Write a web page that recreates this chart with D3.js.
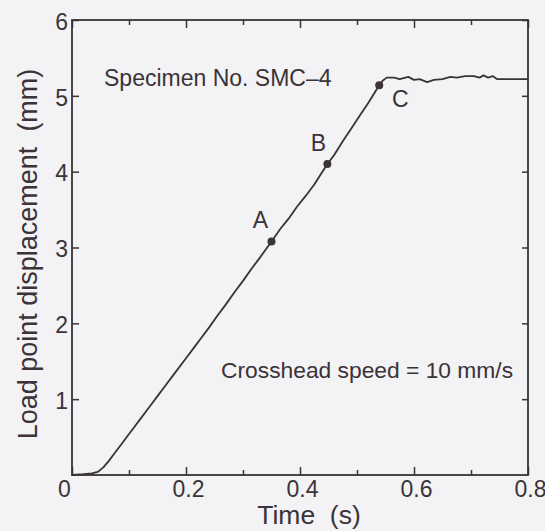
<!DOCTYPE html>
<html>
<head>
<meta charset="utf-8">
<script src="https://cdn.jsdelivr.net/npm/d3@7"></script>
<style>
  body { margin: 0; background: #f3f2f4; }
  svg { display: block; }
  text { font-family: "Liberation Sans", Arial, sans-serif; fill: #3a3337; }
</style>
</head>
<body>
<div id="chart"></div>
<script>
// time (s) and load point displacement (mm)
var time = [0, 0.02, 0.035, 0.045, 0.055, 0.065, 0.075, 0.086, 0.1, 0.11, 0.121, 0.138, 0.15, 0.165, 0.18, 0.2, 0.215, 0.226, 0.24, 0.255, 0.27, 0.285, 0.3, 0.315, 0.33, 0.35, 0.365, 0.38, 0.395, 0.41, 0.425, 0.448, 0.46, 0.475, 0.49, 0.505, 0.52, 0.539, 0.545, 0.552, 0.565, 0.575, 0.59, 0.6, 0.61, 0.623, 0.635, 0.65, 0.664, 0.675, 0.69, 0.705, 0.715, 0.722, 0.73, 0.738, 0.746, 0.76, 0.78, 0.8];
var displacement = [0, 0.01, 0.02, 0.04, 0.1, 0.19, 0.29, 0.4, 0.54, 0.64, 0.75, 0.92, 1.04, 1.19, 1.34, 1.54, 1.69, 1.8, 1.94, 2.1, 2.25, 2.41, 2.56, 2.72, 2.87, 3.08, 3.24, 3.38, 3.54, 3.68, 3.83, 4.1, 4.22, 4.4, 4.57, 4.74, 4.91, 5.14, 5.2, 5.24, 5.24, 5.22, 5.25, 5.21, 5.22, 5.18, 5.21, 5.22, 5.25, 5.24, 5.26, 5.26, 5.24, 5.27, 5.24, 5.26, 5.22, 5.22, 5.22, 5.22];

var markTime = [0.35, 0.448, 0.539];
var markValue = [3.08, 4.1, 5.14];
var markLabel = ["A", "B", "C"];

var xTicks = [0, 0.2, 0.4, 0.6, 0.8];
var xMinor = [0.1, 0.3, 0.5, 0.7];
var yTicks = [1, 2, 3, 4, 5, 6];

var ink = "#3a3337";

var width = 545, height = 531;
var svg = d3.select("#chart")
  .append("svg")
    .attr("width", width)
    .attr("height", height);

var x = d3.scaleLinear().domain([0, 0.8]).range([72, 528]);
var y = d3.scaleLinear().domain([0, 6]).range([475, 20]);

// bottom axis, ticks pointing in
var bottom = svg.append("g")
  .attr("transform", "translate(0," + y(0) + ")")
  .call(d3.axisBottom(x).tickValues(xTicks).tickSize(-8).tickPadding(6)
        .tickFormat(function(d) { return d === 0 ? "0" : d3.format(".1f")(d); }));
bottom.selectAll("text").style("font-size", "23px")
  .attr("dx", function(d) { return d === 0 ? -8 : 2; });
svg.append("g")
  .attr("transform", "translate(0," + y(0) + ")")
  .call(d3.axisBottom(x).tickValues(xMinor).tickSize(-5).tickFormat(""));

// top axis
svg.append("g")
  .attr("transform", "translate(0," + y(6) + ")")
  .call(d3.axisTop(x).tickValues(xTicks).tickSize(-8).tickFormat(""));
svg.append("g")
  .attr("transform", "translate(0," + y(6) + ")")
  .call(d3.axisTop(x).tickValues(xMinor).tickSize(-5).tickFormat(""));

// left axis
var left = svg.append("g")
  .attr("transform", "translate(" + x(0) + ",0)")
  .call(d3.axisLeft(y).tickValues(yTicks).tickSize(-7).tickPadding(4)
        .tickFormat(d3.format("d")));
left.selectAll("text").style("font-size", "23px").attr("dy", "0.4em");

// right axis
svg.append("g")
  .attr("transform", "translate(" + x(0.8) + ",0)")
  .call(d3.axisRight(y).tickValues(yTicks).tickSize(-6).tickFormat(""));

svg.selectAll(".domain").remove();
svg.selectAll(".tick line").attr("stroke", ink).attr("stroke-width", 1.5);
svg.selectAll(".tick text").style("fill", ink);

// frame
svg.append("rect")
  .attr("x", x(0)).attr("y", y(6))
  .attr("width", x(0.8) - x(0)).attr("height", y(0) - y(6))
  .attr("fill", "none").attr("stroke", ink).attr("stroke-width", 1.8);

// trace
var line = d3.line()
  .x(function(d, i) { return x(time[i]); })
  .y(function(d) { return y(d); });
svg.append("path")
  .datum(displacement)
  .attr("d", line)
  .attr("fill", "none")
  .attr("stroke", ink)
  .attr("stroke-width", 1.8)
  .attr("stroke-linejoin", "round");

// marked points
var labelDx = [-11, -9, 21];
var labelDy = [-13, -13, 22];
markTime.forEach(function(t, i) {
  svg.append("circle")
    .attr("cx", x(t)).attr("cy", y(markValue[i])).attr("r", 4)
    .attr("fill", ink);
  svg.append("text")
    .attr("x", x(t) + labelDx[i]).attr("y", y(markValue[i]) + labelDy[i])
    .attr("text-anchor", "middle")
    .style("font-size", "23px")
    .text(markLabel[i]);
});

// annotations
svg.append("text").attr("x", 104).attr("y", 86)
  .style("font-size", "23px").text("Specimen No. SMC\u20134");
svg.append("text").attr("x", 221).attr("y", 378)
  .style("font-size", "22.8px").text("Crosshead speed = 10 mm/s");

// axis titles
svg.append("text")
  .attr("x", 309).attr("y", 524)
  .attr("text-anchor", "middle")
  .style("font-size", "26.5px")
  .style("white-space", "pre")
  .text("Time  (s)");
svg.append("text")
  .attr("transform", "translate(37,254) rotate(-90)")
  .attr("text-anchor", "middle")
  .style("font-size", "27px")
  .style("white-space", "pre")
  .text("Load point displacement  (mm)");
</script>
</body>
</html>
